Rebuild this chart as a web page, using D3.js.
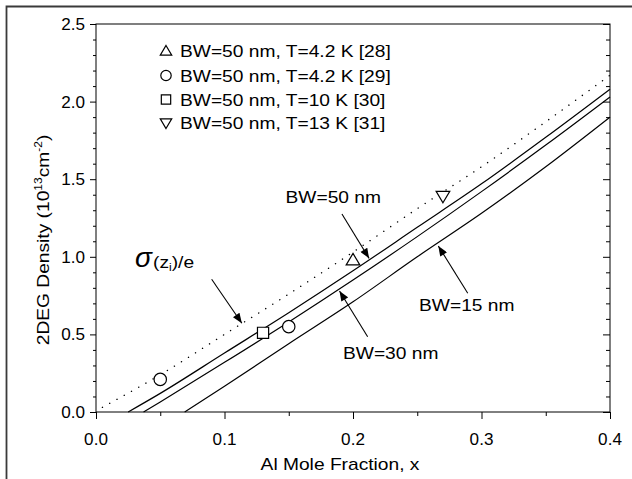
<!DOCTYPE html>
<html>
<head>
<meta charset="utf-8">
<script src="https://cdn.jsdelivr.net/npm/d3@7"></script>
<style>
  html, body { margin: 0; padding: 0; background: #fff; }
  svg text { font-family: "Liberation Sans", Arial, sans-serif; fill: #000; }
</style>
</head>
<body>
<svg id="chart" width="632" height="479"></svg>
<script>
// Al mole fraction grid and 2DEG sheet density (10^13 cm^-2) for each curve
const sheetX = [0.005, 0.05, 0.10, 0.15, 0.20, 0.25, 0.30, 0.35, 0.40];
const sheetY = [0.03, 0.24, 0.50, 0.76, 1.03, 1.31, 1.58, 1.87, 2.17];   // sigma(z_i)/e
const bw50X = [0.025, 0.05, 0.10, 0.15, 0.20, 0.25, 0.30, 0.35, 0.40];
const bw50Y = [0.00, 0.12, 0.38, 0.64, 0.91, 1.19, 1.47, 1.77, 2.08];
const bw30X = [0.037, 0.05, 0.10, 0.15, 0.20, 0.25, 0.30, 0.35, 0.40];
const bw30Y = [0.00, 0.065, 0.32, 0.58, 0.85, 1.13, 1.42, 1.72, 2.03];
const bw15X = [0.069, 0.10, 0.15, 0.20, 0.25, 0.30, 0.35, 0.40];
const bw15Y = [0.00, 0.166, 0.44, 0.71, 1.00, 1.28, 1.58, 1.90];

// Experimental points and the reference each one belongs to
const legendLabels = ["BW=50 nm, T=4.2 K [28]", "BW=50 nm, T=4.2 K [29]",
                      "BW=50 nm, T=10 K [30]", "BW=50 nm, T=13 K [31]"];
const legendSymbols = ["triangleUp", "circle", "square", "triangleDown"];
const measX = [0.20, 0.05, 0.15, 0.13, 0.27];
const measY = [0.98, 0.21, 0.55, 0.51, 1.39];
const measSet = [0, 1, 1, 2, 3];

// Axis ticks
const xTickValues = [0.0, 0.1, 0.2, 0.3, 0.4];
const xTickLabels = ["0.0", "0.1", "0.2", "0.3", "0.4"];
const yTickValues = [0.0, 0.5, 1.0, 1.5, 2.0, 2.5];
const yTickLabels = ["0.0", "0.5", "1.0", "1.5", "2.0", "2.5"];

// Curve labels with arrow tail/tip (data units)
const notes = [
  { text: "BW=50 nm", tx: 0.1475, ty: 1.347, from: [0.1914, 1.276], to: [0.2125, 0.990] },
  { text: "BW=15 nm", tx: 0.2514, ty: 0.651, from: [0.2893, 0.765], to: [0.2664, 1.070] },
  { text: "BW=30 nm", tx: 0.1922, ty: 0.341, from: [0.2114, 0.485], to: [0.1895, 0.780] }
];
const sigmaNote = { tx: 0.0304, ty: 0.934, from: [0.090, 0.855], to: [0.1135, 0.572] };

const svg = d3.select("#chart");
const W = 632, H = 479;
const plot = { left: 96, right: 610, top: 24, bottom: 412 };
const stretch = 1.2;      // wide lettering of the figure's labels
const tickStretch = 1.07;

const x = d3.scaleLinear().domain([0, 0.4]).range([plot.left, plot.right]);
const y = d3.scaleLinear().domain([0, 2.5]).range([plot.bottom, plot.top]);

// outer frame
svg.append("path")
  .attr("d", `M6.5,${H} L6.5,6.5 L${W},6.5`)
  .attr("fill", "none").attr("stroke", "#3a3a3a").attr("stroke-width", 1.8);

// plot box
svg.append("rect")
  .attr("x", plot.left).attr("y", plot.top)
  .attr("width", plot.right - plot.left).attr("height", plot.bottom - plot.top)
  .attr("fill", "none").attr("stroke", "#000").attr("stroke-width", 1);

// bottom axis: major 0.1, minor 0.05, outward
const xAxisMinor = d3.axisBottom(x).tickValues(d3.range(0.05, 0.4, 0.1)).tickSize(4).tickFormat("");
const xAxis = d3.axisBottom(x).tickValues(xTickValues).tickSize(7).tickFormat("");
svg.append("g").attr("transform", `translate(0,${plot.bottom})`).call(xAxisMinor)
  .call(g => g.select(".domain").remove());
const gx = svg.append("g").attr("transform", `translate(0,${plot.bottom})`).call(xAxis)
  .call(g => g.select(".domain").remove());
svg.selectAll(".tick line").attr("stroke", "#000");

// left axis: major 0.5, minor 0.1, outward
const yMinorVals = d3.range(0, 26).map(i => i / 10).filter(v => Math.round(v * 10) % 5 !== 0);
const gyMinor = svg.append("g").attr("transform", `translate(${plot.left},0)`)
  .call(d3.axisLeft(y).tickValues(yMinorVals).tickSize(3).tickFormat(""))
  .call(g => g.select(".domain").remove());
const gy = svg.append("g").attr("transform", `translate(${plot.left},0)`)
  .call(d3.axisLeft(y).tickValues(yTickValues).tickSize(6).tickFormat(""))
  .call(g => g.select(".domain").remove());

// right axis: ticks pointing inward
svg.append("g").attr("transform", `translate(${plot.right},0)`)
  .call(d3.axisLeft(y).tickValues(yMinorVals).tickSize(4).tickFormat(""))
  .call(g => g.select(".domain").remove());
svg.append("g").attr("transform", `translate(${plot.right},0)`)
  .call(d3.axisLeft(y).tickValues(yTickValues).tickSize(7).tickFormat(""))
  .call(g => g.select(".domain").remove());
svg.selectAll(".tick line").attr("stroke", "#000").attr("stroke-width", 1);

// helper: horizontally stretched text placed at (px,py)
function label(parent, str, px, py, opts = {}) {
  const g = parent.append("g")
    .attr("transform", `translate(${px},${py})` + (opts.rotate ? ` rotate(${opts.rotate})` : "") +
      ` scale(${opts.sx || stretch},1)`);
  const t = g.append("text")
    .attr("text-anchor", opts.anchor || "start")
    .attr("font-size", opts.size || 16);
  t.text(str);
  return t;
}

// tick labels
xTickValues.forEach((v, i) => label(svg, xTickLabels[i], x(v), 445, { anchor: "middle", sx: tickStretch }));
yTickValues.forEach((v, i) => label(svg, yTickLabels[i], 85, y(v) + 6, { anchor: "end", sx: tickStretch }));

// axis titles
label(svg, "Al Mole Fraction, x", 340, 470, { anchor: "middle" });
{
  const g = svg.append("g").attr("transform", `translate(49,240) rotate(-90) scale(${stretch},1)`);
  const t = g.append("text").attr("text-anchor", "middle").attr("font-size", 16);
  t.append("tspan").text("2DEG Density (10");
  t.append("tspan").attr("font-size", 10).attr("dy", -7).text("13");
  t.append("tspan").attr("dy", 7).text("cm");
  t.append("tspan").attr("font-size", 10).attr("dy", -7).text("-2");
  t.append("tspan").attr("dy", 7).text(")");
}

// curves
const line = d3.line().x(d => x(d[0])).y(d => y(d[1])).curve(d3.curveMonotoneX);
const zipXY = (xs, ys) => xs.map((v, i) => [v, ys[i]]);
const curves = svg.append("g").attr("fill", "none").attr("stroke", "#000");
curves.append("path").attr("d", line(zipXY(sheetX, sheetY)))
  .attr("stroke-width", 1.4).attr("stroke-linecap", "round").attr("stroke-dasharray", "0.1,8.2");
[[bw50X, bw50Y], [bw30X, bw30Y], [bw15X, bw15Y]].forEach(([xs, ys]) =>
  curves.append("path").attr("d", line(zipXY(xs, ys))).attr("stroke-width", 1.2));

// open marker shapes
function symbolPath(kind, r) {
  switch (kind) {
    case "triangleUp": return `M0,${-r * 1.05} L${r * 1.1},${r * 0.8} L${-r * 1.1},${r * 0.8} Z`;
    case "triangleDown": return `M0,${r * 1.05} L${r * 1.1},${-r * 0.8} L${-r * 1.1},${-r * 0.8} Z`;
    case "square": return `M${-r * 0.9},${-r * 0.9} h${r * 1.8} v${r * 1.8} h${-r * 1.8} Z`;
    default: return d3.path().toString();
  }
}
function drawSymbol(parent, kind, cx, cy, r) {
  if (kind === "circle") {
    parent.append("circle").attr("cx", cx).attr("cy", cy).attr("r", r)
      .attr("fill", "#fff").attr("stroke", "#000").attr("stroke-width", 1.2);
  } else {
    parent.append("path").attr("d", symbolPath(kind, r))
      .attr("transform", `translate(${cx},${cy})`)
      .attr("fill", "#fff").attr("stroke", "#000").attr("stroke-width", 1.2);
  }
}
const pts = svg.append("g");
measX.forEach((v, i) => drawSymbol(pts, legendSymbols[measSet[i]], x(v), y(measY[i]), 6.2));

// legend
const legendRows = [51, 75.5, 99.5, 123];
legendLabels.forEach((s, i) => {
  drawSymbol(svg, legendSymbols[i], 166, legendRows[i], 5.2);
  label(svg, s, 180, legendRows[i] + 6);
});

// arrows
svg.append("defs").append("marker")
  .attr("id", "head").attr("viewBox", "0 0 10 8").attr("refX", 10).attr("refY", 4)
  .attr("markerWidth", 11).attr("markerHeight", 8).attr("markerUnits", "userSpaceOnUse")
  .attr("orient", "auto")
  .append("path").attr("d", "M0,0 L10,4 L0,8 Z").attr("fill", "#000");
function arrow(from, to) {
  svg.append("line")
    .attr("x1", x(from[0])).attr("y1", y(from[1]))
    .attr("x2", x(to[0])).attr("y2", y(to[1]))
    .attr("stroke", "#000").attr("stroke-width", 1.1).attr("marker-end", "url(#head)");
}
notes.forEach(n => {
  label(svg, n.text, x(n.tx), y(n.ty));
  arrow(n.from, n.to);
});

// sigma(z_i)/e label
{
  svg.append("text").attr("x", x(sigmaNote.tx)).attr("y", y(sigmaNote.ty))
    .attr("font-family", "'Liberation Serif', 'DejaVu Serif', serif")
    .attr("font-style", "italic").attr("font-size", 28).text("σ");
  const g = svg.append("g").attr("transform", `translate(${x(sigmaNote.tx) + 18},${y(sigmaNote.ty) + 1}) scale(${stretch},1)`);
  const t = g.append("text").attr("font-size", 16);
  t.append("tspan").text("(z");
  t.append("tspan").attr("font-size", 10).attr("dy", 3).text("i");
  t.append("tspan").attr("dy", -3).text(")/e");
  arrow(sigmaNote.from, sigmaNote.to);
}
</script>
</body>
</html>
